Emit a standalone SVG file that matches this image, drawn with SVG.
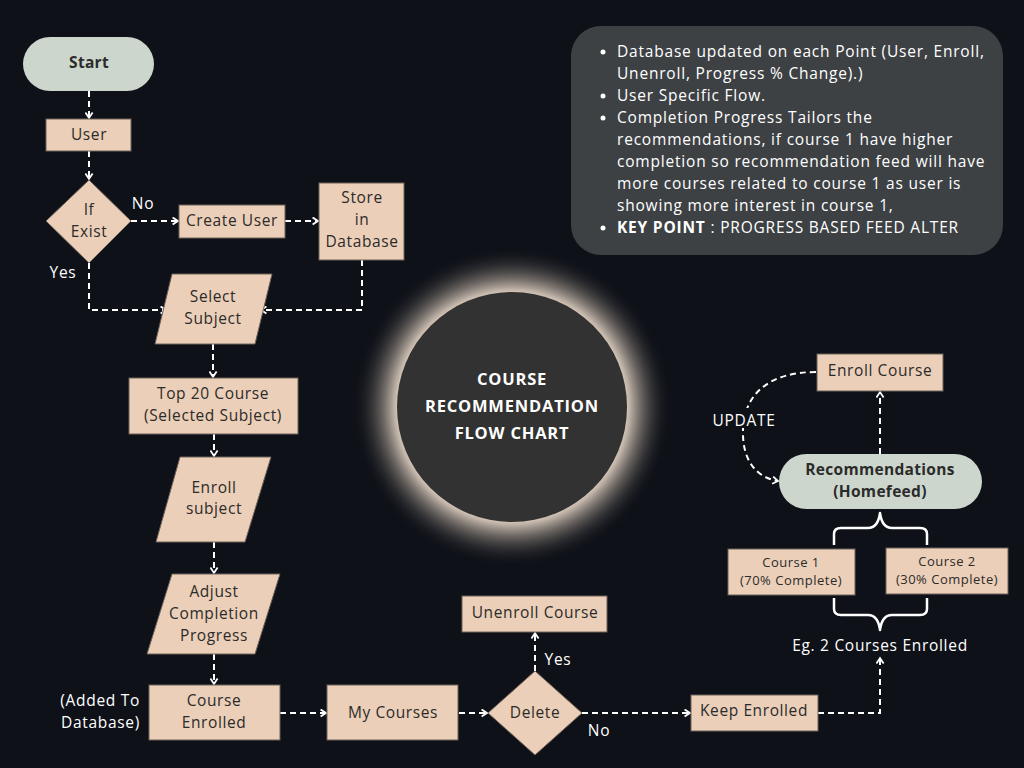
<svg xmlns="http://www.w3.org/2000/svg" width="1024" height="768" viewBox="0 0 1024 768">
<defs>
<marker id="arr" viewBox="0 0 10 10" refX="8" refY="5" markerWidth="9" markerHeight="9" markerUnits="userSpaceOnUse" orient="auto">
<path d="M2,1 L8,5 L2,9" fill="none" stroke="#ffffff" stroke-width="2"/>
</marker>
<radialGradient id="glow" cx="512" cy="407" r="160" gradientUnits="userSpaceOnUse">
<stop offset="0.70" stop-color="#e6d6c6" stop-opacity="1"/>
<stop offset="0.74" stop-color="#cdbfb2" stop-opacity="0.9"/>
<stop offset="0.86" stop-color="#7d766f" stop-opacity="0.45"/>
<stop offset="1" stop-color="#0e1118" stop-opacity="0"/>
</radialGradient>
<style>
.n{fill:#ebcfb8;stroke:#6e625a;stroke-width:1}
.p{fill:#ccd6cc}
.t{font-family:"Open Sans","Liberation Sans",sans-serif;font-size:15.5px;fill:#2b2b2b;text-anchor:middle;letter-spacing:0.6px}
.b{font-weight:bold;letter-spacing:0.3px}
.w{font-family:"Open Sans","Liberation Sans",sans-serif;font-size:15.5px;fill:#ffffff;letter-spacing:0.7px}
.c{fill:none;stroke:#ffffff;stroke-width:2;stroke-dasharray:6 4}
.br{fill:none;stroke:#ffffff;stroke-width:2.5;stroke-linejoin:round}
.s{font-size:13px;letter-spacing:0.5px}
</style>
</defs>
<rect width="1024" height="768" fill="#0e1118"/>

<g id="info">
<rect x="571" y="26" width="432" height="229" rx="30" fill="#3d4144"/>
<g class="w" style="letter-spacing:0.8px">
<circle cx="603" cy="52" r="2.5" fill="#fff"/>
<circle cx="603" cy="96" r="2.5" fill="#fff"/>
<circle cx="603" cy="118" r="2.5" fill="#fff"/>
<circle cx="603" cy="228" r="2.5" fill="#fff"/>
<text x="617" y="57">Database updated on each Point (User, Enroll,</text>
<text x="617" y="79">Unenroll, Progress % Change).)</text>
<text x="617" y="101">User Specific Flow.</text>
<text x="617" y="123">Completion Progress Tailors the</text>
<text x="617" y="145">recommendations, if course 1 have higher</text>
<text x="617" y="167">completion so recommendation feed will have</text>
<text x="617" y="189">more courses related to course 1 as user is</text>
<text x="617" y="211">showing more interest in course 1,</text>
<text x="617" y="233"><tspan font-weight="bold">KEY POINT</tspan> : PROGRESS BASED FEED ALTER</text>
</g>
</g>

<g id="title">
<circle cx="512" cy="407" r="160" fill="url(#glow)"/>
<circle cx="512" cy="407" r="115" fill="#323232"/>
<g font-family="'Open Sans','Liberation Sans',sans-serif" font-weight="bold" font-size="16.5" fill="#ffffff" text-anchor="middle" letter-spacing="0.8">
<text x="512" y="385">COURSE</text>
<text x="512" y="412">RECOMMENDATION</text>
<text x="512" y="439">FLOW CHART</text>
</g>
</g>

<g id="connectors">
<path class="c" d="M89,91 V118" marker-end="url(#arr)"/>
<path class="c" d="M89,151 V179" marker-end="url(#arr)"/>
<path class="c" d="M131,221 H178" marker-end="url(#arr)"/>
<path class="c" d="M285,221 H318" marker-end="url(#arr)"/>
<path class="c" d="M89,263 V310 H166" marker-end="url(#arr)"/>
<path class="c" d="M362,260 V310 H261" marker-end="url(#arr)"/>
<path class="c" d="M213,344 V377" marker-end="url(#arr)"/>
<path class="c" d="M214,434 V456" marker-end="url(#arr)"/>
<path class="c" d="M214,542 V573" marker-end="url(#arr)"/>
<path class="c" d="M214,654 V684" marker-end="url(#arr)"/>
<path class="c" d="M280,713 H326" marker-end="url(#arr)"/>
<path class="c" d="M459,713 H487" marker-end="url(#arr)"/>
<path class="c" d="M535,671 V633" marker-end="url(#arr)"/>
<path class="c" d="M582,713 H690" marker-end="url(#arr)"/>
<path class="c" d="M818,713 H880 V658" marker-end="url(#arr)"/>
<path class="c" d="M880,454 V392" marker-end="url(#arr)"/>
<path class="c" d="M816,372 C768,372 744,395 743,430 C742,462 758,478 778,481" marker-end="url(#arr)"/>
<rect x="710" y="408" width="70" height="20" fill="#0e1118"/>
<path class="br" d="M834,545 V534 Q834,528 841,528 H868 Q878,528 880,513 Q882,528 892,528 H920 Q927,528 927,534 V545"/>
<path class="br" d="M834,598 V609 Q834,615 841,615 H868 Q878,615 880,630 Q882,615 892,615 H920 Q927,615 927,609 V598"/>
</g>

<g class="w">
<text x="143" y="209" text-anchor="middle">No</text>
<text x="63" y="278" text-anchor="middle">Yes</text>
<text x="558" y="665" text-anchor="middle">Yes</text>
<text x="599" y="736" text-anchor="middle">No</text>
<text x="744" y="426" text-anchor="middle">UPDATE</text>
<text x="880" y="651" text-anchor="middle">Eg. 2 Courses Enrolled</text>
<text x="140" y="706" text-anchor="end">(Added To</text>
<text x="140" y="728" text-anchor="end">Database)</text>
</g>

<g id="start">
<rect class="p" x="23" y="37" width="131" height="54" rx="27"/>
<text class="t b" x="89" y="68">Start</text>
</g>
<g id="user">
<rect class="n" x="46" y="119" width="85" height="32"/>
<text class="t" x="89" y="140">User</text>
</g>
<g id="ifexist">
<polygon class="n" points="89,180 131,221 89,263 46,221"/>
<text class="t" x="89" y="215">If</text>
<text class="t" x="89" y="237">Exist</text>
</g>
<g id="createuser">
<rect class="n" x="179" y="205" width="106" height="33"/>
<text class="t" x="232" y="226">Create User</text>
</g>
<g id="store">
<rect class="n" x="319" y="183" width="85" height="77"/>
<text class="t" x="362" y="203">Store</text>
<text class="t" x="362" y="225">in</text>
<text class="t" x="362" y="247">Database</text>
</g>
<g id="selectsubject">
<polygon class="n" points="172,274 272,274 255,344 155,344"/>
<text class="t" x="213" y="302">Select</text>
<text class="t" x="213" y="324">Subject</text>
</g>
<g id="top20">
<rect class="n" x="129" y="378" width="169" height="56"/>
<text class="t" x="213" y="399">Top 20 Course</text>
<text class="t" x="213" y="421">(Selected Subject)</text>
</g>
<g id="enrollsubject">
<polygon class="n" points="180,457 271,457 245,542 156,542"/>
<text class="t" x="214" y="493">Enroll</text>
<text class="t" x="214" y="514">subject</text>
</g>
<g id="adjust">
<polygon class="n" points="172,574 280,574 255,654 147,654"/>
<text class="t" x="214" y="597">Adjust</text>
<text class="t" x="214" y="619">Completion</text>
<text class="t" x="214" y="641">Progress</text>
</g>
<g id="courseenrolled">
<rect class="n" x="149" y="685" width="131" height="55"/>
<text class="t" x="214" y="706">Course</text>
<text class="t" x="214" y="728">Enrolled</text>
</g>
<g id="mycourses">
<rect class="n" x="327" y="685" width="131" height="55"/>
<text class="t" x="393" y="718">My Courses</text>
</g>
<g id="delete">
<polygon class="n" points="535,671 582,713 535,755 488,713"/>
<text class="t" x="535" y="718">Delete</text>
</g>
<g id="unenroll">
<rect class="n" x="462" y="596" width="145" height="36"/>
<text class="t" x="535" y="618">Unenroll Course</text>
</g>
<g id="keepenrolled">
<rect class="n" x="691" y="695" width="127" height="36"/>
<text class="t" x="754" y="716">Keep Enrolled</text>
</g>
<g id="enrollcourse">
<rect class="n" x="817" y="354" width="126" height="37"/>
<text class="t" x="880" y="376">Enroll Course</text>
</g>
<g id="recommendations">
<rect class="p" x="779" y="454" width="203" height="55" rx="27.5"/>
<text class="t b" x="880" y="475">Recommendations</text>
<text class="t b" x="880" y="497">(Homefeed)</text>
</g>
<g id="course1">
<rect class="n" x="728" y="549" width="127" height="46"/>
<text class="t s" x="791" y="567">Course 1</text>
<text class="t s" x="791" y="585">(70% Complete)</text>
</g>
<g id="course2">
<rect class="n" x="886" y="548" width="122" height="46"/>
<text class="t s" x="947" y="566">Course 2</text>
<text class="t s" x="947" y="584">(30% Complete)</text>
</g>
</svg>
